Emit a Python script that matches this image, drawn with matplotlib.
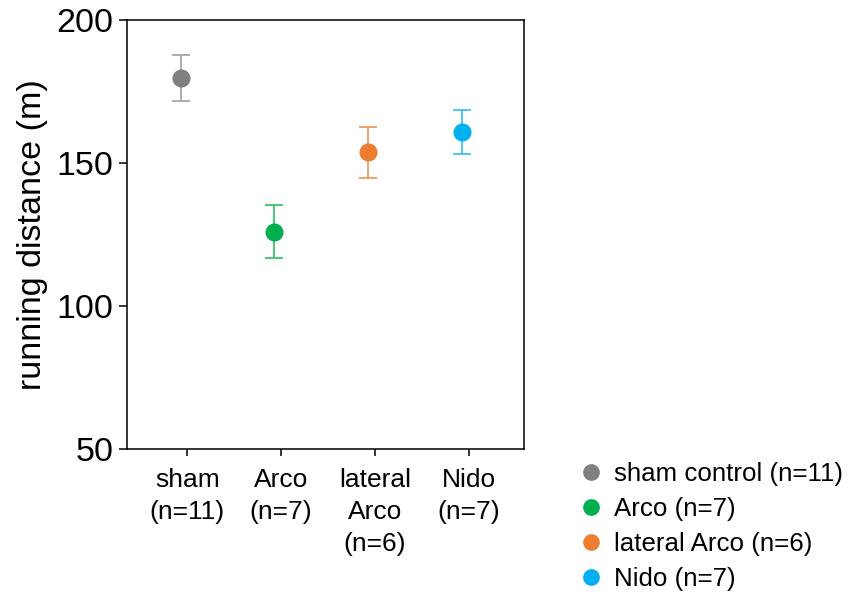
import matplotlib
matplotlib.use("Agg")
import matplotlib.pyplot as plt
from matplotlib.lines import Line2D

plt.rcParams['font.family'] = ['Liberation Sans', 'DejaVu Sans']

groups = ["sham\n(n=11)", "Arco\n(n=7)", "lateral\nArco\n(n=6)", "Nido\n(n=7)"]
legend_labels = ["sham control (n=11)", "Arco (n=7)", "lateral Arco (n=6)", "Nido (n=7)"]
means = [179.8, 126.0, 153.7, 160.8]
errors = [8.0, 9.3, 8.8, 7.7]
marker_colors = ["#808080", "#00b050", "#ed7d31", "#00b0f0"]
bar_colors = ["#a6a6a6", "#40c070", "#f09a60", "#40c4f4"]

fig = plt.figure(figsize=(8.48, 5.97), dpi=100)
ax = fig.add_axes([0.150, 0.248, 0.468, 0.7185])

xs = range(1, len(groups) + 1)
for x, m, e, mc, bc in zip(xs, means, errors, marker_colors, bar_colors):
    ax.errorbar(x - 0.07, m, yerr=e, fmt='none', ecolor=bc, elinewidth=1.3,
                capsize=6.7, capthick=1.3, zorder=2)
    ax.plot(x - 0.07, m, 'o', color=mc, markersize=12, zorder=3)

ax.set_xlim(0.36, 4.59)
ax.set_ylim(50, 200)
ax.set_yticks([50, 100, 150, 200])
ax.set_xticks(list(xs))
ax.set_xticklabels(groups, fontsize=19, linespacing=1.4)
ax.tick_params(axis='y', labelsize=24.5, length=6, width=1.1, direction='out', pad=4)
ax.tick_params(axis='x', length=5, width=1.1, direction='out', pad=9)
for s in ax.spines.values():
    s.set_linewidth(1.1)
ax.set_ylabel("running distance (m)", fontsize=24.5, labelpad=6)

handles = [Line2D([], [], marker='o', linestyle='none', color=c, markersize=11)
           for c in marker_colors]
fig.legend(handles, legend_labels, loc='upper left', bbox_to_anchor=(0.669, 0.243),
           frameon=False, fontsize=18.6, handletextpad=0.4, handlelength=1.0,
           labelspacing=0.42, borderaxespad=0)

fig.savefig("out.png", dpi=100)
